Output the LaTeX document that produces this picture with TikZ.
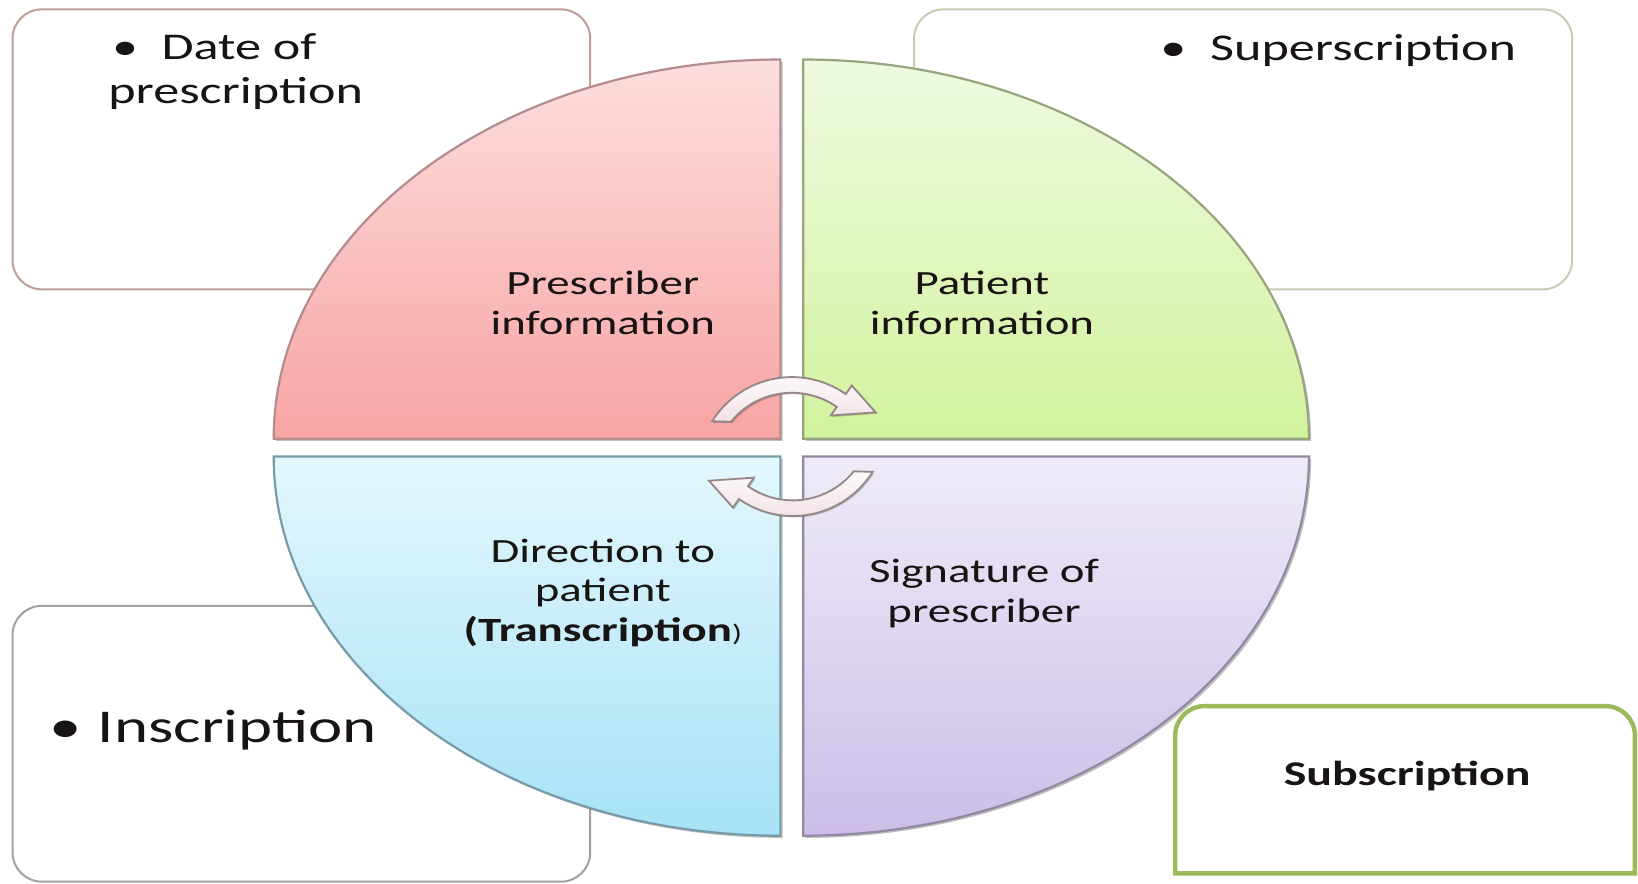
\documentclass[tikz,border=0pt]{standalone}
\usepackage{fontspec}
\setmainfont{Carlito}[FakeStretch=1.38]
\usetikzlibrary{shadows}
\definecolor{txt}{RGB}{25,20,20}
\definecolor{pinkT}{RGB}{252,222,222}
\definecolor{pinkB}{RGB}{248,164,164}
\definecolor{pinkL}{RGB}{180,140,140}
\definecolor{greenT}{RGB}{239,250,224}
\definecolor{greenB}{RGB}{210,242,158}
\definecolor{greenL}{RGB}{150,165,125}
\definecolor{blueT}{RGB}{228,247,253}
\definecolor{blueB}{RGB}{166,226,246}
\definecolor{blueL}{RGB}{120,155,168}
\definecolor{purpT}{RGB}{239,235,248}
\definecolor{purpB}{RGB}{204,190,232}
\definecolor{purpL}{RGB}{145,136,162}
\definecolor{boxTL}{RGB}{190,160,155}
\definecolor{boxTR}{RGB}{200,205,180}
\definecolor{boxBL}{RGB}{165,160,160}
\definecolor{boxBR}{RGB}{155,187,89}
\definecolor{arrT}{RGB}{253,249,250}
\definecolor{arrB}{RGB}{242,226,230}
\definecolor{arrL}{RGB}{150,135,135}
\tikzset{
  infobox/.style={line width=0.55pt, fill=white, rounded corners=2.8mm},
  quad/.style={line width=0.6pt, drop shadow={shadow xshift=0.6pt, shadow yshift=-0.6pt, opacity=0.25, fill=black}},
  circarrow/.style={draw=arrL, line width=0.5pt, top color=arrT, bottom color=arrB,
     drop shadow={shadow xshift=0.4pt, shadow yshift=-0.4pt, opacity=0.2, fill=black}},
  boxtext/.style={inner sep=0pt, text=txt, font={\fontsize{10.3}{12}\selectfont}},
  quadtext/.style={inner sep=0pt, text=txt, font={\fontsize{9.25}{10.8}\selectfont}},
}
\begin{document}
\begin{tikzpicture}[x=0.1mm, y=0.1mm]
\useasboundingbox (0,0) rectangle (1568,846);
\fill[white] (0,0) rectangle (1568,846);

% outer boxes (behind the circle)
\draw[infobox, draw=boxTL] (12,569) rectangle (565,837);
\draw[infobox, draw=boxTR] (875,569) rectangle (1505,837);
\draw[infobox, draw=boxBL] (12,2) rectangle (565,266);
\draw[line width=1.2pt, draw=boxBR, fill=white]
  (1125,10) -- (1125,142) arc[start angle=180, end angle=90, radius=28]
  -- (1537,170) arc[start angle=90, end angle=0, radius=28] -- (1565,10) -- cycle;

% quadrants
\path[quad, draw=pinkL, top color=pinkT, bottom color=pinkB]
  (747,426) -- (262,426) arc[start angle=180, end angle=90, x radius=485, y radius=363] -- cycle;
\path[quad, draw=greenL, top color=greenT, bottom color=greenB]
  (769,426) -- (769,789) arc[start angle=90, end angle=0, x radius=484, y radius=363] -- cycle;
\path[quad, draw=blueL, top color=blueT, bottom color=blueB]
  (747,409) -- (747,46) arc[start angle=270, end angle=180, x radius=485, y radius=363] -- cycle;
\path[quad, draw=purpL, top color=purpT, bottom color=purpB]
  (769,409) -- (1253,409) arc[start angle=0, end angle=-90, x radius=484, y radius=363] -- cycle;

% circular arrows
\begin{scope}[shift={(758,395)}]
  \path[circarrow] (148:90) arc[start angle=148, end angle=55, radius=90]
    -- (55:100) -- (35:98) -- (55:65) -- (55:75)
    arc[start angle=55, end angle=141, radius=75] -- cycle;
\end{scope}
\begin{scope}[shift={(759,442)}, rotate=180]
  \path[circarrow] (148:90) arc[start angle=148, end angle=55, radius=90]
    -- (55:100) -- (35:98) -- (55:65) -- (55:75)
    arc[start angle=55, end angle=141, radius=75] -- cycle;
\end{scope}

% box texts
\node[boxtext, anchor=base west] (date) at (103,788.6)
  {\begin{tabular}[t]{@{}l@{}}\makebox[14.5pt][l]{\hspace{1pt}\textbullet}Date of\\prescription\end{tabular}};
\node[boxtext, anchor=base west] (super) at (1110,787.6)
  {\makebox[13.6pt][l]{\textbullet}Superscription};
\node[inner sep=0pt, text=txt, font={\fontsize{12.8}{14}\selectfont}, anchor=base west] (inscr) at (47,135)
  {\makebox[13.1pt][l]{\textbullet}Inscription};
\node[inner sep=0pt, text=txt, font={\fontsize{9.45}{10}\selectfont\bfseries}, anchor=base] (subscr) at (1347,94.5)
  {Subscription};

% quadrant labels
\node[quadtext, anchor=base] (prescriber) at (577,563.6)
  {\begin{tabular}[t]{@{}c@{}}Prescriber\\information\end{tabular}};
\node[quadtext, anchor=base] (patient) at (940,563.6)
  {\begin{tabular}[t]{@{}c@{}}Patient\\information\end{tabular}};
\node[quadtext, anchor=base] (direction) at (577,307.8)
  {\begin{tabular}[t]{@{}c@{}}Direction to\\patient\\\textbf{(Transcription}{\fontsize{6.5}{7}\selectfont)}\end{tabular}};
\node[quadtext, anchor=base] (signature) at (942,288.4)
  {\begin{tabular}[t]{@{}c@{}}Signature of\\prescriber\end{tabular}};
\end{tikzpicture}
\end{document}
